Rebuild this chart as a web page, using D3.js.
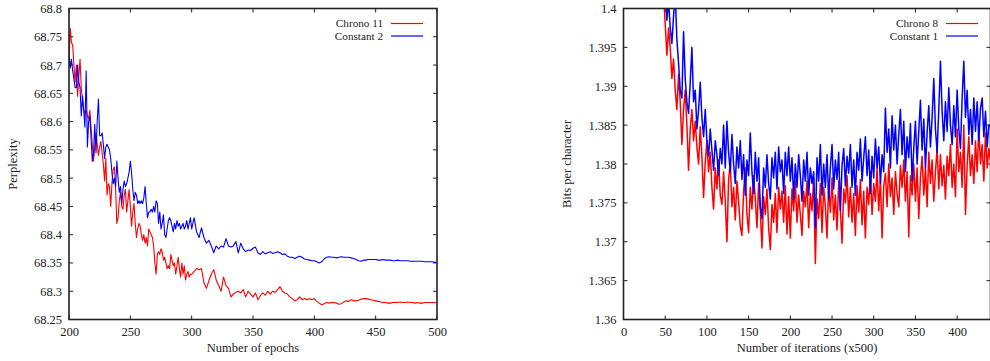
<!DOCTYPE html>
<html>
<head>
<meta charset="utf-8">
<script src="https://cdn.jsdelivr.net/npm/d3@7"></script>
<style>
  html, body { margin: 0; padding: 0; background: #fff; }
  svg { display: block; }
  text { font-family: "Liberation Serif", "Times New Roman", serif; fill: #222; }
</style>
</head>
<body>
<svg id="chart" width="990" height="361"></svg>
<script>
// ---- Left panel: perplexity per epoch ----
const epochs = d3.range(200, 301, 1).concat(d3.range(302, 501, 2));
const epochTicks = [200, 250, 300, 350, 400, 450, 500];
const perplexityTicks = [68.25, 68.3, 68.35, 68.4, 68.45, 68.5, 68.55, 68.6, 68.65, 68.7, 68.75, 68.8];

const chrono11 = [
  68.700, 68.765, 68.740, 68.735, 68.700, 68.670, 68.700, 68.645, 68.680, 68.710,
  68.660, 68.640, 68.620, 68.615, 68.620, 68.610, 68.605, 68.620, 68.590, 68.560,
  68.530, 68.555, 68.580, 68.560, 68.540, 68.555, 68.565, 68.545, 68.525, 68.495,
  68.535, 68.470, 68.490, 68.485, 68.450, 68.490, 68.515, 68.520, 68.480, 68.420,
  68.430, 68.460, 68.475, 68.450, 68.445, 68.470, 68.480, 68.440, 68.460, 68.480,
  68.450, 68.415, 68.440, 68.455, 68.420, 68.395, 68.410, 68.420, 68.415, 68.400,
  68.390, 68.400, 68.385, 68.395, 68.380, 68.410, 68.405, 68.400, 68.395, 68.380,
  68.350, 68.330, 68.365, 68.370, 68.365, 68.375, 68.370, 68.355, 68.360, 68.350,
  68.340, 68.345, 68.340, 68.365, 68.355, 68.345, 68.350, 68.330, 68.345, 68.360,
  68.340, 68.325, 68.350, 68.330, 68.345, 68.320, 68.330, 68.335, 68.325, 68.330,
  68.330,
  68.335, 68.340, 68.338, 68.340, 68.315, 68.305, 68.318, 68.330, 68.338, 68.320,
  68.310, 68.300, 68.325, 68.310, 68.305, 68.290, 68.295, 68.298, 68.300, 68.297,
  68.303, 68.290, 68.300, 68.295, 68.290, 68.297, 68.285, 68.292, 68.297, 68.293,
  68.300, 68.295, 68.300, 68.298, 68.303, 68.308, 68.300, 68.297, 68.295, 68.290,
  68.287, 68.283, 68.285, 68.290, 68.285, 68.287, 68.285, 68.287, 68.285, 68.287,
  68.282, 68.279, 68.276, 68.278, 68.280, 68.279, 68.280, 68.280, 68.279, 68.277,
  68.278, 68.281, 68.283, 68.282, 68.285, 68.283, 68.283, 68.284, 68.286, 68.287,
  68.287, 68.286, 68.285, 68.284, 68.283, 68.282, 68.281, 68.280, 68.280, 68.279,
  68.279, 68.280, 68.280, 68.280, 68.281, 68.280, 68.280, 68.281, 68.280, 68.280,
  68.279, 68.280, 68.279, 68.279, 68.280, 68.280, 68.280, 68.280, 68.280, 68.280
];

const constant2 = [
  68.720, 68.695, 68.710, 68.690, 68.675, 68.660, 68.660, 68.700, 68.670, 68.660,
  68.610, 68.645, 68.620, 68.590, 68.690, 68.555, 68.600, 68.610, 68.570, 68.530,
  68.545, 68.595, 68.545, 68.600, 68.640, 68.575, 68.575, 68.580, 68.560, 68.535,
  68.555, 68.560, 68.555, 68.550, 68.535, 68.510, 68.490, 68.500, 68.485, 68.530,
  68.500, 68.475, 68.485, 68.455, 68.480, 68.495, 68.485, 68.490, 68.500, 68.510,
  68.530, 68.510, 68.480, 68.460, 68.475, 68.470, 68.455, 68.460, 68.455, 68.460,
  68.455, 68.465, 68.485, 68.455, 68.430, 68.440, 68.440, 68.445, 68.440, 68.450,
  68.440, 68.460, 68.455, 68.420, 68.440, 68.410, 68.420, 68.435, 68.400, 68.395,
  68.410, 68.425, 68.430, 68.425, 68.415, 68.405, 68.420, 68.410, 68.425, 68.415,
  68.420, 68.410, 68.415, 68.420, 68.410, 68.415, 68.425, 68.410, 68.420, 68.430,
  68.410,
  68.430, 68.405, 68.395, 68.412, 68.395, 68.385, 68.390, 68.380, 68.368, 68.380,
  68.375, 68.380, 68.378, 68.393, 68.380, 68.378, 68.380, 68.388, 68.368, 68.385,
  68.375, 68.370, 68.373, 68.372, 68.376, 68.378, 68.368, 68.365, 68.370, 68.366,
  68.368, 68.370, 68.367, 68.368, 68.370, 68.368, 68.365, 68.366, 68.362, 68.360,
  68.360, 68.358, 68.360, 68.362, 68.360, 68.357, 68.356, 68.355, 68.354, 68.354,
  68.352, 68.350, 68.352, 68.357, 68.360, 68.361, 68.360, 68.360, 68.359, 68.360,
  68.361, 68.360, 68.360, 68.360, 68.359, 68.358, 68.356, 68.354, 68.353, 68.355,
  68.355, 68.356, 68.356, 68.356, 68.356, 68.355, 68.355, 68.356, 68.355, 68.355,
  68.355, 68.354, 68.354, 68.355, 68.354, 68.354, 68.354, 68.354, 68.353, 68.353,
  68.353, 68.353, 68.353, 68.353, 68.352, 68.352, 68.352, 68.352, 68.351, 68.351
];

// ---- Right panel: bits per character per 500 iterations ----
const iterations = d3.range(48, 441, 2);
const iterationTicks = [0, 50, 100, 150, 200, 250, 300, 350, 400];
const bpcTicks = [1.36, 1.365, 1.37, 1.375, 1.38, 1.385, 1.39, 1.395, 1.4];

const chrono8 = [
  1.4020, 1.3980, 1.3940, 1.3975, 1.3950, 1.3910, 1.3935, 1.3895, 1.3870, 1.3915,
  1.3880, 1.3825, 1.3870, 1.3895, 1.3850, 1.3792, 1.3845, 1.3870, 1.3830, 1.3855,
  1.3822, 1.3800, 1.3848, 1.3810, 1.3757, 1.3802, 1.3830, 1.3790, 1.3815, 1.3770,
  1.3742, 1.3795, 1.3768, 1.3805, 1.3760, 1.3748, 1.3790, 1.3752, 1.3700, 1.3780,
  1.3802, 1.3745, 1.3770, 1.3728, 1.3778, 1.3752, 1.3720, 1.3708, 1.3765, 1.3795,
  1.3735, 1.3712, 1.3770, 1.3742, 1.3785, 1.3755, 1.3718, 1.3775, 1.3740, 1.3692,
  1.3758, 1.3735, 1.3768, 1.3718, 1.3690, 1.3748, 1.3725, 1.3762, 1.3712, 1.3770,
  1.3742, 1.3765, 1.3725, 1.3772, 1.3710, 1.3758, 1.3705, 1.3768, 1.3740, 1.3778,
  1.3725, 1.3760, 1.3735, 1.3708, 1.3765, 1.3745, 1.3778, 1.3718, 1.3762, 1.3740,
  1.3782, 1.3672, 1.3755, 1.3730, 1.3775, 1.3712, 1.3770, 1.3745, 1.3705, 1.3772,
  1.3738, 1.3782, 1.3728, 1.3760, 1.3715, 1.3778, 1.3742, 1.3698, 1.3768, 1.3750,
  1.3785, 1.3732, 1.3770, 1.3725, 1.3762, 1.3708, 1.3772, 1.3738, 1.3780, 1.3722,
  1.3765, 1.3705, 1.3770, 1.3748, 1.3790, 1.3735, 1.3775, 1.3752, 1.3795, 1.3740,
  1.3780, 1.3705, 1.3772, 1.3788, 1.3745, 1.3800, 1.3758, 1.3782, 1.3735, 1.3790,
  1.3762, 1.3745, 1.3798, 1.3770, 1.3805, 1.3752, 1.3790, 1.3706, 1.3785, 1.3760,
  1.3800, 1.3752, 1.3795, 1.3730, 1.3782, 1.3810, 1.3760, 1.3795, 1.3745, 1.3815,
  1.3775, 1.3805, 1.3752, 1.3790, 1.3820, 1.3768, 1.3812, 1.3772, 1.3798, 1.3755,
  1.3810, 1.3785, 1.3825, 1.3770, 1.3800, 1.3758, 1.3845, 1.3790, 1.3815, 1.3770,
  1.3850, 1.3735, 1.3798, 1.3835, 1.3785, 1.3812, 1.3775, 1.3830, 1.3790, 1.3845,
  1.3800, 1.3825, 1.3778, 1.3840, 1.3795, 1.3820, 1.3805
];

const constant1 = [
  1.4060, 1.4030, 1.3985, 1.4010, 1.3975, 1.3955, 1.3990, 1.4020, 1.3960, 1.3930,
  1.3895, 1.3885, 1.3970, 1.3910, 1.3880, 1.3865, 1.3905, 1.3950, 1.3880, 1.3895,
  1.3845, 1.3870, 1.3905, 1.3860, 1.3835, 1.3870, 1.3830, 1.3810, 1.3845, 1.3818,
  1.3792, 1.3830, 1.3812, 1.3785, 1.3820, 1.3800, 1.3850, 1.3795, 1.3855, 1.3815,
  1.3790, 1.3838, 1.3800, 1.3775, 1.3822, 1.3795, 1.3830, 1.3780, 1.3812, 1.3760,
  1.3805, 1.3785, 1.3840, 1.3790, 1.3762, 1.3815, 1.3778, 1.3808, 1.3745, 1.3730,
  1.3795, 1.3770, 1.3812, 1.3775, 1.3755, 1.3808, 1.3782, 1.3815, 1.3768, 1.3822,
  1.3790, 1.3805, 1.3762, 1.3815, 1.3785, 1.3822, 1.3778, 1.3808, 1.3755, 1.3800,
  1.3770, 1.3812, 1.3785, 1.3752, 1.3805, 1.3778, 1.3815, 1.3760, 1.3795, 1.3775,
  1.3790, 1.3718, 1.3808, 1.3778, 1.3825, 1.3760, 1.3800, 1.3770, 1.3812, 1.3755,
  1.3795, 1.3825, 1.3768, 1.3805, 1.3780, 1.3815, 1.3740, 1.3798, 1.3820, 1.3772,
  1.3810, 1.3788, 1.3825, 1.3770, 1.3805, 1.3760, 1.3815, 1.3792, 1.3832, 1.3778,
  1.3808, 1.3835, 1.3785, 1.3818, 1.3762, 1.3810, 1.3782, 1.3832, 1.3795, 1.3822,
  1.3775, 1.3812, 1.3790, 1.3872, 1.3815, 1.3845, 1.3795, 1.3862, 1.3818, 1.3850,
  1.3800, 1.3838, 1.3870, 1.3812, 1.3855, 1.3790, 1.3835, 1.3808, 1.3852, 1.3778,
  1.3820, 1.3855, 1.3800, 1.3842, 1.3882, 1.3818, 1.3858, 1.3795, 1.3840, 1.3875,
  1.3822, 1.3860, 1.3910, 1.3845, 1.3815, 1.3870, 1.3932, 1.3868, 1.3830, 1.3880,
  1.3842, 1.3898, 1.3850, 1.3825, 1.3875, 1.3835, 1.3895, 1.3845, 1.3820, 1.3885,
  1.3932, 1.3860, 1.3895, 1.3838, 1.3870, 1.3825, 1.3885, 1.3842, 1.3880, 1.3830,
  1.3872, 1.3885, 1.3835, 1.3868, 1.3822, 1.3850, 1.3848
];

const svg = d3.select("#chart");
const FONT = 12.5;
const LEGEND_FONT = 11.2;

function panel(opts) {
  const { left, right, top, bottom, id } = opts;
  const g = svg.append("g");
  const x = d3.scaleLinear().domain(opts.xDomain).range([left, right]);
  const y = d3.scaleLinear().domain(opts.yDomain).range([bottom, top]);

  g.append("clipPath").attr("id", id)
    .append("rect").attr("x", left).attr("y", top)
    .attr("width", right - left).attr("height", bottom - top);

  // inward ticks on all four sides, gnuplot style
  const tickLen = 4;
  const axB = d3.axisBottom(x).tickValues(opts.xTicks).tickSize(0).tickPadding(8).tickFormat(d => d);
  const axL = d3.axisLeft(y).tickValues(opts.yTicks).tickSize(0).tickPadding(7).tickFormat(opts.yFormat);

  const gb = g.append("g").attr("transform", `translate(0,${bottom})`).call(axB);
  const gl = g.append("g").attr("transform", `translate(${left},0)`).call(axL);
  [gb, gl].forEach(a => {
    a.select(".domain").remove();
    a.selectAll("text").style("font-family", '"Liberation Serif", serif')
      .style("font-size", FONT + "px").attr("fill", "#222");
  });
  gb.selectAll("text").attr("dy", "0.71em");

  const ticks = g.append("g").attr("stroke", "#222").attr("stroke-width", 1);
  opts.xTicks.forEach(v => {
    const px = x(v);
    if (px < left - 0.5 || px > right + 0.5) return;
    ticks.append("line").attr("x1", px).attr("x2", px).attr("y1", bottom).attr("y2", bottom - tickLen);
    ticks.append("line").attr("x1", px).attr("x2", px).attr("y1", top).attr("y2", top + tickLen);
  });
  opts.yTicks.forEach(v => {
    const py = y(v);
    ticks.append("line").attr("x1", left).attr("x2", left + tickLen).attr("y1", py).attr("y2", py);
    ticks.append("line").attr("x1", right).attr("x2", right - tickLen).attr("y1", py).attr("y2", py);
  });

  // series
  const lines = g.append("g").attr("clip-path", `url(#${id})`);
  opts.series.forEach(s => {
    const pts = s.values.map((v, i) => [opts.xs[i], v]);
    lines.append("path").datum(pts)
      .attr("fill", "none").attr("stroke", s.color).attr("stroke-width", opts.lineWidth)
      .attr("stroke-linejoin", "round")
      .attr("d", d3.line().x(d => x(d[0])).y(d => y(d[1])));
  });

  // frame
  g.append("rect").attr("x", left).attr("y", top)
    .attr("width", right - left).attr("height", bottom - top)
    .attr("fill", "none").attr("stroke", "#222").attr("stroke-width", 1.6);

  // legend
  opts.series.forEach((s, i) => {
    const ly = top + 15 + i * 12.5;
    g.append("text").attr("x", opts.legendX).attr("y", ly).attr("dy", "0.33em")
      .attr("text-anchor", "end").style("font-size", LEGEND_FONT + "px").text(s.name);
    g.append("line").attr("x1", opts.legendX + 8).attr("x2", opts.legendX + 40)
      .attr("y1", ly).attr("y2", ly).attr("stroke", s.color).attr("stroke-width", 1.2);
  });

  // axis titles
  g.append("text").attr("x", (left + opts.titleRight) / 2).attr("y", 352)
    .attr("text-anchor", "middle").style("font-size", FONT + "px").text(opts.xLabel);
  g.append("text").attr("transform", `translate(${opts.yLabelX},${(top + bottom) / 2}) rotate(-90)`)
    .attr("text-anchor", "middle").style("font-size", FONT + "px").text(opts.yLabel);
}

panel({
  id: "clipL", left: 69, right: 437, top: 8.5, bottom: 319.5,
  xDomain: [200, 500], yDomain: [68.25, 68.8],
  xTicks: epochTicks, yTicks: perplexityTicks,
  yFormat: d3.format(""),
  xs: epochs, lineWidth: 1.1,
  series: [
    { name: "Chrono 11", color: "#ff0000", values: chrono11 },
    { name: "Constant 2", color: "#0000ff", values: constant2 }
  ],
  legendX: 383, titleRight: 437,
  xLabel: "Number of epochs", yLabel: "Perplexity", yLabelX: 17
});

panel({
  id: "clipR", left: 623.5, right: 990.5, top: 8.5, bottom: 319.5,
  xDomain: [0, 440], yDomain: [1.36, 1.4],
  xTicks: iterationTicks, yTicks: bpcTicks,
  yFormat: d3.format(""),
  xs: iterations, lineWidth: 1.5,
  series: [
    { name: "Chrono 8", color: "#ff0000", values: chrono8 },
    { name: "Constant 1", color: "#0000ff", values: constant1 }
  ],
  legendX: 938, titleRight: 990.5,
  xLabel: "Number of iterations (x500)", yLabel: "Bits per character", yLabelX: 571
});
</script>
</body>
</html>
